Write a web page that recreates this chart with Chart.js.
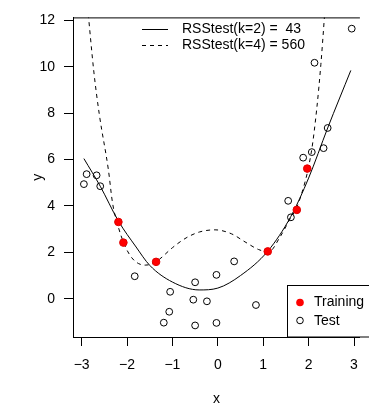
<!DOCTYPE html>
<html>
<head>
<meta charset="utf-8">
<script src="https://cdn.jsdelivr.net/npm/chart.js@4/dist/chart.umd.min.js"></script>
<style>
  html, body { margin: 0; padding: 0; background: #fff; overflow: hidden; }
  canvas { display: block; }
</style>
</head>
<body>
<canvas id="fitChart" width="369" height="406"></canvas>
<script>
'use strict';

// training points (red)
const trainX = [-2.19, -2.08, -1.36, 1.10, 1.74, 1.97];
const trainY = [3.31, 2.42, 1.59, 2.04, 3.83, 5.61];

// test points (open circles)
const testX = [-2.89, -2.67, -2.95, -2.59, -1.83, -1.05, -1.07, -1.19, -0.50, -0.54, -0.24, -0.50,
    -0.03, -0.03, 0.36, 0.84, 1.55, 1.61, 1.88, 2.07, 2.33, 2.42, 2.13, 2.95];
const testY = [5.37, 5.32, 4.94, 4.85, 0.97, 0.30, -0.56, -1.03, 0.71, -0.04, -0.11, -1.15,
    1.03, -1.04, 1.61, -0.27, 4.22, 3.51, 6.08, 6.32, 6.49, 7.36, 10.17, 11.64];

// fitted curve, k = 2 (solid)
const fit2X = [-2.95, -2.59, -2.19, -1.80, -1.50, -1.00, -0.41, 0.00, 0.50, 1.10, 1.61, 2.00, 2.42, 2.93];
const fit2Y = [6.04, 4.85, 3.35, 2.23, 1.44, 0.72, 0.38, 0.46, 1.00, 2.05, 3.55, 5.20, 7.36, 9.84];

// fitted curve, k = 4 (dashed)
const fit4X = [-2.87, -2.73, -2.61, -2.41, -2.32, -2.20, -2.05, -1.90, -1.75, -1.60, -1.45, -1.30,
    -1.00, -0.70, -0.40, -0.06, 0.30, 0.60, 0.90, 1.12, 1.37, 1.57, 1.78, 2.06, 2.18, 2.27, 2.35, 2.37];
const fit4Y = [12.6, 9.77, 7.94, 5.55, 4.14, 3.15, 2.30, 1.78, 1.52, 1.45, 1.50, 1.68,
    2.20, 2.62, 2.88, 2.97, 2.80, 2.45, 2.12, 2.02, 2.66, 3.37, 4.14, 6.32, 8.20, 10.10, 12.20, 12.8];

const xTicks = [-3, -2, -1, 0, 1, 2, 3];
const yTicks = [0, 2, 4, 6, 8, 10, 12];

const legendTop = ['RSStest(k=2) =  43', 'RSStest(k=4) = 560'];
const legendBottom = ['Training', 'Test'];

const toPoints = (xs, ys) => xs.map((x, i) => ({ x: x, y: ys[i] }));
const minusLabel = v => (v < 0 ? '\u2212' + Math.abs(v) : String(v));

document.addEventListener('DOMContentLoaded', function () {
    Chart.defaults.font.family = "'Liberation Sans', Arial, sans-serif";
    Chart.defaults.font.size = 14;
    Chart.defaults.color = '#000';

    const font = "14px 'Liberation Sans', Arial, sans-serif";

    // top border of the box plus the two legends drawn the R way
    const extras = {
        id: 'extras',
        afterDatasetsDraw(chart) {
            const ctx = chart.ctx;
            const area = chart.chartArea;
            ctx.save();
            ctx.strokeStyle = '#000';
            ctx.lineWidth = 1;

            ctx.beginPath();
            ctx.moveTo(area.left, area.top + 0.5);
            ctx.lineTo(area.right, area.top + 0.5);
            ctx.stroke();

            // upper legend
            ctx.font = font;
            ctx.fillStyle = '#000';
            ctx.textBaseline = 'middle';
            ctx.textAlign = 'left';
            [29.5, 45.5].forEach((y, i) => {
                ctx.setLineDash(i === 0 ? [] : [4, 4]);
                ctx.beginPath();
                ctx.moveTo(142, y);
                ctx.lineTo(168, y);
                ctx.stroke();
                ctx.fillText(legendTop[i], 182, y);
            });
            ctx.setLineDash([]);

            // lower-right legend box
            ctx.fillStyle = '#fff';
            ctx.fillRect(287.5, 285.5, 100, area.bottom - 285.5);
            ctx.strokeRect(287.5, 285.5, 100, area.bottom - 285.5);

            ctx.fillStyle = '#ff0000';
            ctx.beginPath();
            ctx.arc(300, 302.5, 3.8, 0, Math.PI * 2);
            ctx.fill();
            ctx.beginPath();
            ctx.arc(300, 320.5, 3.3, 0, Math.PI * 2);
            ctx.stroke();

            ctx.fillStyle = '#000';
            ctx.fillText(legendBottom[0], 314, 302.5);
            ctx.fillText(legendBottom[1], 314, 321);
            ctx.restore();
        }
    };

    const ctx = document.getElementById('fitChart').getContext('2d');
    new Chart(ctx, {
        type: 'scatter',
        data: {
            datasets: [{
                label: 'Training',
                data: toPoints(trainX, trainY),
                backgroundColor: '#ff0000',
                borderColor: '#e00000',
                borderWidth: 1,
                pointRadius: 3.8
            }, {
                label: 'Test',
                data: toPoints(testX, testY),
                backgroundColor: 'rgba(0,0,0,0)',
                borderColor: '#000',
                borderWidth: 1,
                pointRadius: 3.4
            }, {
                label: 'k=2',
                data: toPoints(fit2X, fit2Y),
                showLine: true,
                pointRadius: 0,
                borderColor: '#000',
                borderWidth: 1,
                cubicInterpolationMode: 'monotone'
            }, {
                label: 'k=4',
                data: toPoints(fit4X, fit4Y),
                showLine: true,
                pointRadius: 0,
                borderColor: '#000',
                borderWidth: 1,
                borderDash: [4, 4],
                cubicInterpolationMode: 'monotone'
            }]
        },
        options: {
            responsive: false,
            animation: false,
            devicePixelRatio: 1,
            layout: { padding: { top: 11, right: 0, bottom: 0, left: 0 } },
            plugins: {
                legend: { display: false },
                tooltip: { enabled: false }
            },
            scales: {
                x: {
                    type: 'linear',
                    position: 'bottom',
                    min: -3.19,
                    max: 3.13,
                    afterFit: s => { s.height = 69; },
                    afterBuildTicks: s => { s.ticks = xTicks.map(v => ({ value: v })); },
                    grid: { drawOnChartArea: false, drawTicks: true, tickLength: 9, tickColor: '#000', tickWidth: 1 },
                    border: { display: true, color: '#000', width: 1 },
                    ticks: { padding: 11, maxRotation: 0, autoSkip: false, callback: minusLabel },
                    title: { display: true, text: 'x', font: { size: 14, lineHeight: 1 }, padding: { top: 0, bottom: 0 } }
                },
                y: {
                    type: 'linear',
                    position: 'left',
                    min: -1.648,
                    max: 12.125,
                    afterFit: s => { s.width = 73; },
                    afterBuildTicks: s => { s.ticks = yTicks.map(v => ({ value: v })); },
                    grid: { drawOnChartArea: false, drawTicks: true, tickLength: 9, tickColor: '#000', tickWidth: 1 },
                    border: { display: true, color: '#000', width: 1 },
                    ticks: { padding: 9, autoSkip: false, callback: minusLabel },
                    title: { display: true, text: 'y', font: { size: 14, lineHeight: 1 }, padding: { top: 31, bottom: 0 } }
                }
            }
        },
        plugins: [extras]
    });
});
</script>
</body>
</html>
